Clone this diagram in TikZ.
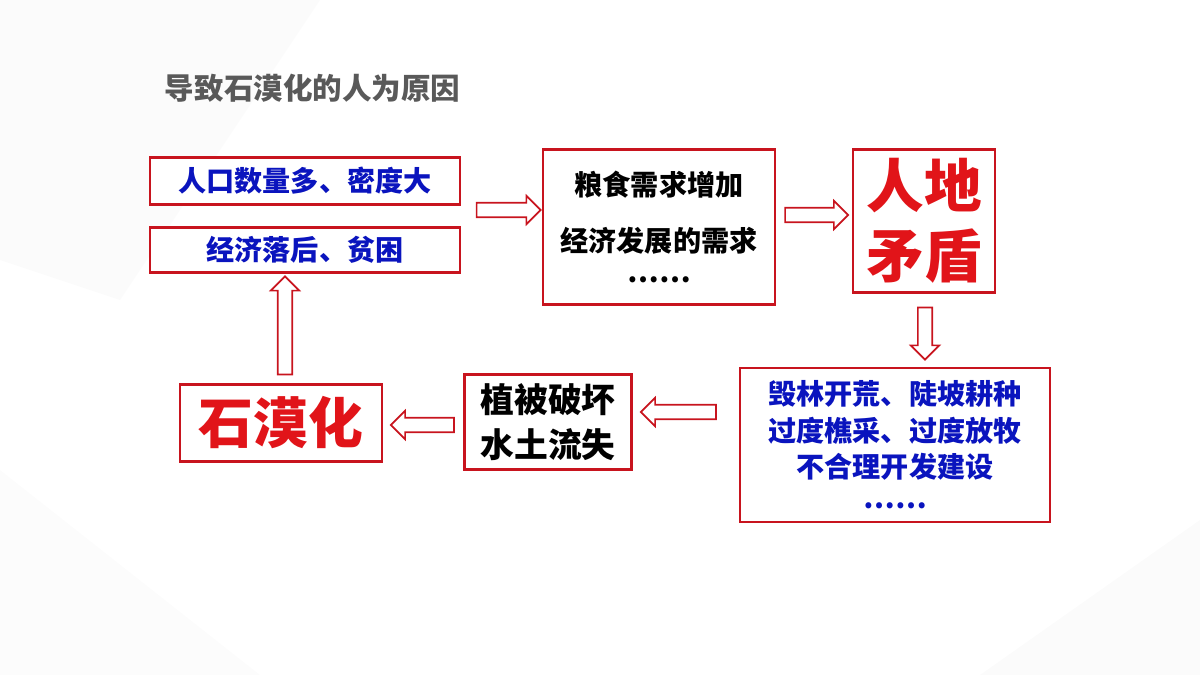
\documentclass[tikz,border=0pt]{standalone}
\usepackage{fontspec}
\setmainfont{Noto Sans CJK SC}
\usetikzlibrary{shapes.arrows,positioning}
\definecolor{boxred}{RGB}{200,20,30}
\definecolor{txtblue}{RGB}{10,20,190}
\definecolor{bigred}{RGB}{225,20,25}
\tikzset{
  box/.style={draw=boxred, line width=1.8pt, fill=white, align=center, font=\bfseries},
  hollow/.style={single arrow, draw=boxred, line width=1.2pt, fill=white,
    inner sep=4.5pt, single arrow head extend=5pt}
}
\begin{document}
\begin{tikzpicture}[x=0.025cm,y=-0.025cm]
  \useasboundingbox (0,0) rectangle (1200,675);
  % faint background facets
  \fill[gray!3] (0,0) -- (320,0) -- (120,300) -- (0,260) -- cycle;
  \fill[gray!3] (1200,520) -- (980,675) -- (1200,675) -- cycle;
  \fill[gray!2] (0,470) -- (260,675) -- (0,675) -- cycle;
  \node (title) [text=gray!70!black, font=\fontsize{21pt}{24pt}\bfseries, anchor=west] at (160,88) {导致石漠化的人为原因};
  \node (pop) [box, text=txtblue, minimum width=310*0.025cm, minimum height=47*0.025cm, font=\fontsize{20pt}{24pt}\bfseries] at (305,181) {人口数量多、密度大};
  \node (poor) [box, text=txtblue, minimum width=310*0.025cm, minimum height=45*0.025cm, font=\fontsize{20pt}{24pt}\bfseries] at (305,250) {经济落后、贫困};
  \node (need) [box, minimum width=232*0.025cm, minimum height=155*0.025cm, font=\fontsize{20pt}{34pt}\bfseries] at (659,227) {粮食需求增加\\[6pt]经济发展的需求\\[-12pt]……};
  \node (conf) [box, text=bigred, minimum width=142*0.025cm, minimum height=143*0.025cm, font=\fontsize{41pt}{50pt}\bfseries] at (924,221) {人地\\矛盾};
  \node (act) [box, text=txtblue, minimum width=310*0.025cm, minimum height=154*0.025cm, font=\fontsize{20pt}{26pt}\bfseries] at (895,445) {毁林开荒、陡坡耕种\\过度樵采、过度放牧\\不合理开发建设\\[-4pt]……};
  \node (veg) [box, minimum width=167*0.025cm, minimum height=95*0.025cm, font=\fontsize{24pt}{32pt}\bfseries] at (548,422) {植被破坏\\水土流失};
  \node (rock) [box, text=bigred, minimum width=202*0.025cm, minimum height=77*0.025cm, font=\fontsize{39pt}{44pt}\bfseries] at (281,423) {石漠化};
  % hollow arrows
  \node (a1) [hollow, minimum height=64*0.025cm] at (505,210) {};
  \node (a2) [hollow, minimum height=63*0.025cm] at (813,215) {};
  \node (a3) [hollow, minimum height=52*0.025cm, shape border rotate=270] at (925,330) {};
  \node (a4) [hollow, minimum height=75*0.025cm, shape border rotate=180] at (682,412) {};
  \node (a5) [hollow, minimum height=63*0.025cm, shape border rotate=180] at (426,425) {};
  \node (a6) [hollow, minimum height=98*0.025cm, shape border rotate=90] at (285,329) {};
\end{tikzpicture}
\end{document}
